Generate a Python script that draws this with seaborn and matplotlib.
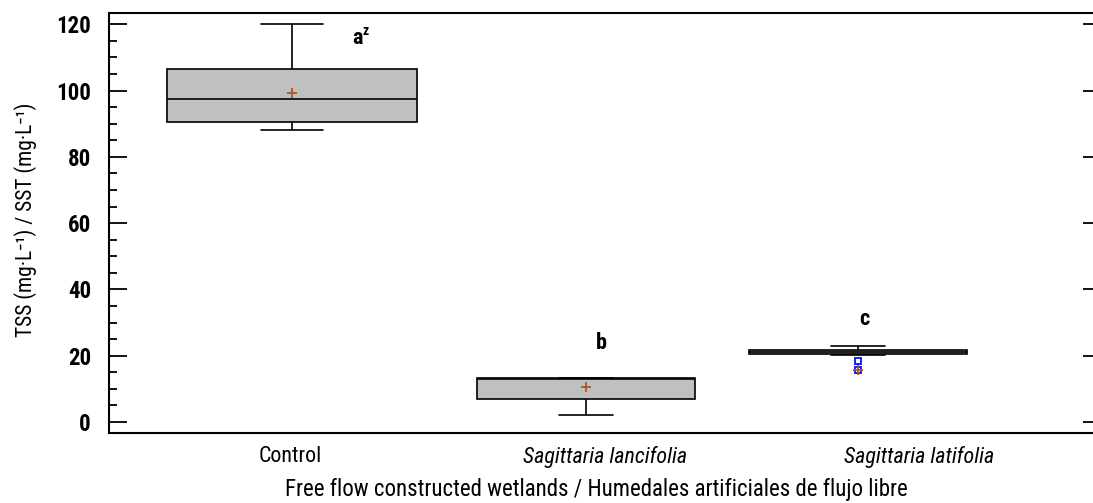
import numpy as np
import pandas as pd
import matplotlib
matplotlib.use("Agg")
import matplotlib.pyplot as plt
import matplotlib.font_manager as fm
import seaborn as sns

# ---- data ----
categories = ["Control", "Sagittaria lancifolia", "Sagittaria latifolia"]
control_vals = [88.1, 89.0, 90.6, 94.0, 97.6, 100.0, 106.4, 107.1, 120.0]
lancifolia_vals = [2.2, 6.5, 6.9, 13.0, 13.0, 13.1, 13.2, 13.3, 13.3]
latifolia_vals = [15.8, 18.5, 20.2, 20.6, 20.8, 21.0, 21.1, 21.2, 21.4, 21.6, 21.7, 22.2, 22.8]
mean_vals = [99.2, 10.5, 15.8]
letters = ["a", "b", "c"]
letter_sup = ["z", "", ""]
letter_y = [116.0, 24.0, 31.0]
yticks = [0, 20, 40, 60, 80, 100, 120]

# ---- layout (not data) ----
box_pos = [0.005, 0.94, 1.805]
box_width = [0.794, 0.692, 0.692]
letter_x = [0.213, 0.99, 1.825]


def pick_font():
    entries = fm.fontManager.ttflist
    names = {e.name for e in entries}
    for n in ["Liberation Sans Narrow", "Arial Narrow", "Roboto Condensed",
              "Open Sans Condensed", "Noto Sans Condensed", "DejaVu Sans Condensed"]:
        if n in names:
            return n, "normal", True
    for base in ["Roboto", "Liberation Sans", "Noto Sans", "Open Sans", "DejaVu Sans"]:
        for e in entries:
            if e.name == base and str(e.stretch) in ("condensed", "semi-condensed",
                                                      "extra-condensed", "500", "600"):
                return base, "condensed", True
    return "Liberation Sans", "normal", False


sns.set_theme(style="white")
font_name, font_stretch, narrow = pick_font()
plt.rcParams["font.family"] = [font_name, "DejaVu Sans"]
plt.rcParams["font.stretch"] = font_stretch
for k in ["text.color", "axes.labelcolor", "xtick.color", "ytick.color", "axes.edgecolor"]:
    plt.rcParams[k] = "black"

sc = 1.0 if narrow else 0.92

fig = plt.figure(figsize=(10.93, 5.03), dpi=100)
ax = fig.add_axes([109 / 1093, 70 / 503, 992 / 1093, 420 / 503])

groups = [control_vals, lancifolia_vals, latifolia_vals]
df = pd.concat(
    [pd.DataFrame({"group": c, "pos": p, "value": v})
     for c, p, v in zip(categories, box_pos, groups)],
    ignore_index=True,
)

for c, w in zip(categories, box_width):
    sub = df[df["group"] == c]
    sns.boxplot(
        data=sub, x="pos", y="value", native_scale=True, width=w, ax=ax,
        color="#c0c0c0", linecolor="black", linewidth=1.2, whis=1.5,
        capwidths=0.25 * w,
        flierprops=dict(marker="s", markerfacecolor="none",
                        markeredgecolor="#1a1aff", markersize=5, markeredgewidth=1.4),
        boxprops=dict(facecolor="#c0c0c0", edgecolor="black"),
        medianprops=dict(color="black", linewidth=1.2),
    )

mdf = pd.DataFrame({"pos": box_pos, "mean": mean_vals})
sns.scatterplot(data=mdf, x="pos", y="mean", marker="+", s=45, color="#b0561a",
                linewidth=1.3, ax=ax, zorder=5)

for x, y, t, sup in zip(letter_x, letter_y, letters, letter_sup):
    ax.text(x, y, t, ha="center", va="center", fontsize=16 * sc, fontweight="bold")
    if sup:
        ax.annotate(sup, (x, y), xytext=(3.5, 5), textcoords="offset points",
                    ha="left", va="center", fontsize=10 * sc, fontweight="bold")

ax.set_xlim(-0.578, 2.578)
ax.set_ylim(-3.3, 123.4)
ax.set_xticks([0, 1, 2])
ax.set_xticklabels(categories)
for i, lab in enumerate(ax.get_xticklabels()):
    lab.set_fontsize(15.8 * sc)
    if i > 0:
        lab.set_fontstyle("italic")
ax.tick_params(axis="x", length=0, pad=9)

ax.set_yticks(yticks)
ax.set_yticks(np.arange(0, 121, 5), minor=True)
ax.tick_params(axis="y", which="major", direction="in", length=13, width=1.3,
               right=True, left=True, labelsize=16.5 * sc, pad=13)
ax.tick_params(axis="y", which="minor", direction="in", length=6, width=1.3,
               left=True, right=False)
for lab in ax.get_yticklabels():
    lab.set_fontweight("bold")

for s in ax.spines.values():
    s.set_linewidth(1.5)
    s.set_color("black")

ax.set_xlabel("Free flow constructed wetlands / Humedales artificiales de flujo libre",
              fontsize=16.5 * sc)
ax.xaxis.set_label_coords(0.491, -0.108)
ax.set_ylabel("TSS (mg·L⁻¹) / SST (mg·L⁻¹)", fontsize=15.5 * sc)
ax.yaxis.set_label_coords(-0.0726, 0.507)

fig.savefig("out.png", dpi=100)
